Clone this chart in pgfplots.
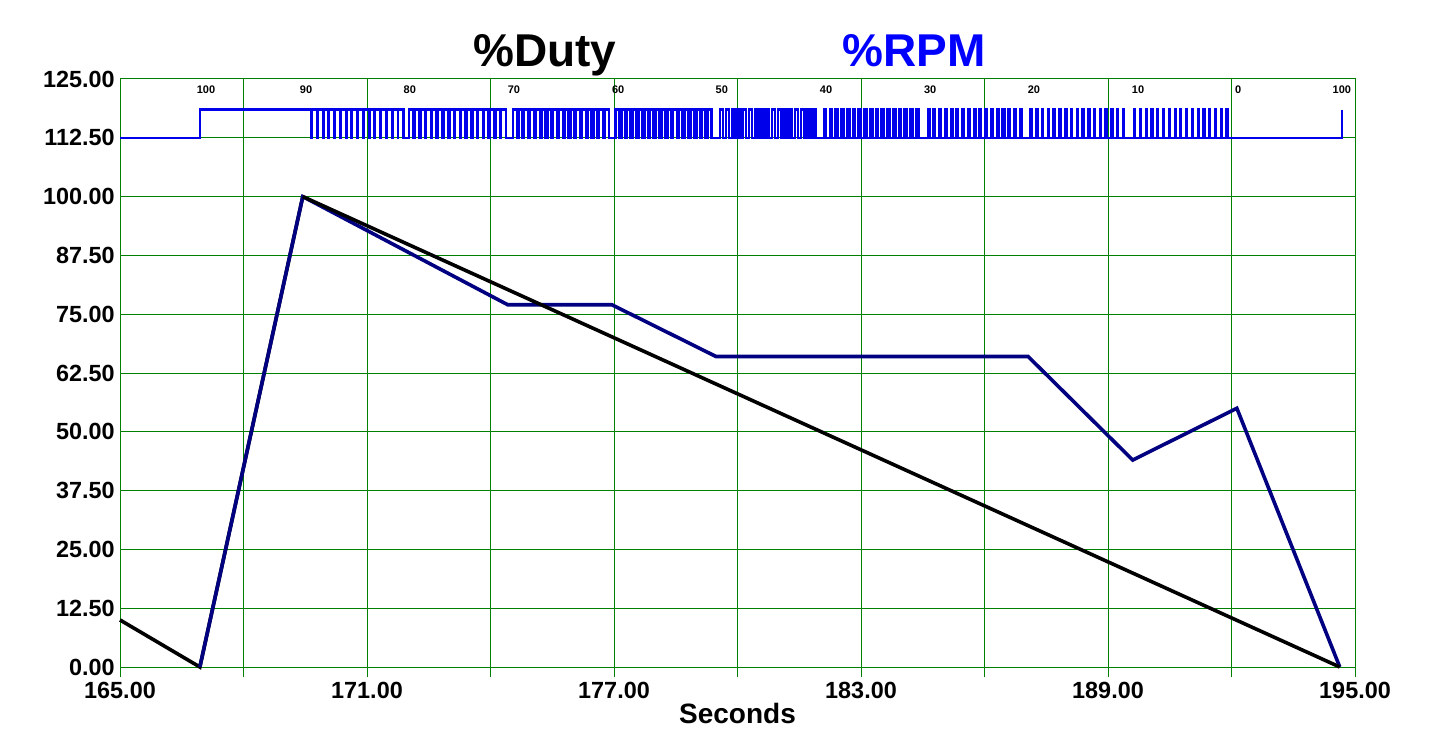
\documentclass[border=0pt]{standalone}
\usepackage{fontspec}
\setmainfont{Liberation Sans}
\usepackage{pgfplots}
\pgfplotsset{compat=1.18}
\definecolor{gridgreen}{RGB}{0,128,0}
\definecolor{navyline}{RGB}{0,0,128}
\definecolor{pulseblue}{RGB}{0,0,235}
\begin{document}
\begin{tikzpicture}[x=1pt,y=1pt]
\useasboundingbox (-60,-39) rectangle (659,333.5);
\begin{axis}[
  at={(0,0)}, anchor=south west,
  scale only axis, width=617.5pt, height=294pt,
  xmin=165, xmax=195, ymin=0, ymax=125,
  axis line style={gridgreen, line width=0.5pt},
  grid=major, grid style={gridgreen, line width=0.5pt},
  xtick={165,168,171,174,177,180,183,186,189,192,195},
  xticklabels={165.00,,171.00,,177.00,,183.00,,189.00,,195.00},
  ytick={0,12.5,25,37.5,50,62.5,75,87.5,100,112.5,125},
  yticklabels={0.00,12.50,25.00,37.50,50.00,62.50,75.00,87.50,100.00,112.50,125.00},
  tick label style={font=\fontsize{11.7}{13}\selectfont\bfseries},
  yticklabel style={inner xsep=0.5pt, xshift=3pt},
  xticklabel style={inner ysep=2.5pt},
  xtick pos=bottom, ytick pos=left, tick align=outside,
  major tick length=5pt,
  xtick style={gridgreen, line width=0.5pt},
  ytick style={draw=none},
  xlabel={Seconds}, xlabel style={font=\fontsize{14}{16}\selectfont\bfseries, yshift=4pt},
  clip=false,
]
% pulse train
\addplot[pulseblue, line width=1.2pt, const plot] coordinates {
(165,112.5) (166.94,118.5)
(169.52,118.5) (169.646,112.5) (169.66,118.5) (169.786,112.5) (169.80,118.5) (169.926,112.5) (169.94,118.5) (170.066,112.5)
(170.08,118.5) (170.206,112.5) (170.22,118.5) (170.346,112.5) (170.36,118.5) (170.486,112.5) (170.50,118.5) (170.626,112.5)
(170.64,118.5) (170.766,112.5) (170.78,118.5) (170.906,112.5) (170.92,118.5) (171.046,112.5) (171.06,118.5) (171.186,112.5)
(171.20,118.5) (171.326,112.5) (171.34,118.5) (171.466,112.5) (171.48,118.5) (171.606,112.5) (171.62,118.5) (171.746,112.5)
(171.76,118.5) (171.886,112.5)
(172.02,118.5) (172.132,112.5) (172.16,118.5) (172.272,112.5) (172.30,118.5) (172.412,112.5) (172.44,118.5) (172.552,112.5)
(172.58,118.5) (172.692,112.5) (172.72,118.5) (172.832,112.5) (172.86,118.5) (172.972,112.5) (173.00,118.5) (173.112,112.5)
(173.14,118.5) (173.252,112.5) (173.28,118.5) (173.392,112.5) (173.42,118.5) (173.532,112.5) (173.56,118.5) (173.672,112.5)
(173.70,118.5) (173.812,112.5) (173.84,118.5) (173.952,112.5) (173.98,118.5) (174.092,112.5) (174.12,118.5) (174.232,112.5)
(174.26,118.5) (174.372,112.5)
(174.54,118.5) (174.638,112.5) (174.68,118.5) (174.778,112.5) (174.82,118.5) (174.918,112.5) (174.96,118.5) (175.058,112.5)
(175.10,118.5) (175.198,112.5) (175.24,118.5) (175.338,112.5) (175.38,118.5) (175.478,112.5) (175.52,118.5) (175.618,112.5)
(175.66,118.5) (175.758,112.5) (175.80,118.5) (175.898,112.5) (175.94,118.5) (176.038,112.5) (176.08,118.5) (176.178,112.5)
(176.22,118.5) (176.318,112.5) (176.36,118.5) (176.458,112.5) (176.50,118.5) (176.598,112.5) (176.64,118.5) (176.738,112.5)
(176.78,118.5) (176.878,112.5)
(177.04,118.5) (177.124,112.5) (177.18,118.5) (177.264,112.5) (177.32,118.5) (177.404,112.5) (177.46,118.5) (177.544,112.5)
(177.60,118.5) (177.684,112.5) (177.74,118.5) (177.824,112.5) (177.88,118.5) (177.964,112.5) (178.02,118.5) (178.104,112.5)
(178.16,118.5) (178.244,112.5) (178.30,118.5) (178.384,112.5) (178.44,118.5) (178.524,112.5) (178.58,118.5) (178.664,112.5)
(178.72,118.5) (178.804,112.5) (178.86,118.5) (178.944,112.5) (179.00,118.5) (179.084,112.5) (179.14,118.5) (179.224,112.5)
(179.28,118.5) (179.364,112.5)
(179.58,118.5) (179.65,112.5) (179.72,118.5) (179.79,112.5) (179.86,118.5) (179.93,112.5) (180.00,118.5) (180.07,112.5)
(180.14,118.5) (180.21,112.5) (180.28,118.5) (180.35,112.5) (180.42,118.5) (180.49,112.5) (180.56,118.5) (180.63,112.5)
(180.70,118.5) (180.77,112.5) (180.84,118.5) (180.91,112.5) (180.98,118.5) (181.05,112.5) (181.12,118.5) (181.19,112.5)
(181.26,118.5) (181.33,112.5) (181.40,118.5) (181.47,112.5) (181.54,118.5) (181.61,112.5) (181.68,118.5) (181.75,112.5)
(181.82,118.5) (181.89,112.5)
(182.10,118.5) (182.156,112.5) (182.24,118.5) (182.296,112.5) (182.38,118.5) (182.436,112.5) (182.52,118.5) (182.576,112.5)
(182.66,118.5) (182.716,112.5) (182.80,118.5) (182.856,112.5) (182.94,118.5) (182.996,112.5) (183.08,118.5) (183.136,112.5)
(183.22,118.5) (183.276,112.5) (183.36,118.5) (183.416,112.5) (183.50,118.5) (183.556,112.5) (183.64,118.5) (183.696,112.5)
(183.78,118.5) (183.836,112.5) (183.92,118.5) (183.976,112.5) (184.06,118.5) (184.116,112.5) (184.20,118.5) (184.256,112.5)
(184.34,118.5) (184.396,112.5)
(184.62,118.5) (184.662,112.5) (184.76,118.5) (184.802,112.5) (184.90,118.5) (184.942,112.5) (185.04,118.5) (185.082,112.5)
(185.18,118.5) (185.222,112.5) (185.32,118.5) (185.362,112.5) (185.46,118.5) (185.502,112.5) (185.60,118.5) (185.642,112.5)
(185.74,118.5) (185.782,112.5) (185.88,118.5) (185.922,112.5) (186.02,118.5) (186.062,112.5) (186.16,118.5) (186.202,112.5)
(186.30,118.5) (186.342,112.5) (186.44,118.5) (186.482,112.5) (186.58,118.5) (186.622,112.5) (186.72,118.5) (186.762,112.5)
(186.86,118.5) (186.902,112.5)
(187.12,118.5) (187.148,112.5) (187.26,118.5) (187.288,112.5) (187.40,118.5) (187.428,112.5) (187.54,118.5) (187.568,112.5)
(187.68,118.5) (187.708,112.5) (187.82,118.5) (187.848,112.5) (187.96,118.5) (187.988,112.5) (188.10,118.5) (188.128,112.5)
(188.24,118.5) (188.268,112.5) (188.38,118.5) (188.408,112.5) (188.52,118.5) (188.548,112.5) (188.66,118.5) (188.688,112.5)
(188.80,118.5) (188.828,112.5) (188.94,118.5) (188.968,112.5) (189.08,118.5) (189.108,112.5) (189.22,118.5) (189.248,112.5)
(189.36,118.5) (189.388,112.5)
(189.64,118.5) (189.66,112.5) (189.78,118.5) (189.80,112.5) (189.92,118.5) (189.94,112.5) (190.06,118.5) (190.08,112.5)
(190.20,118.5) (190.22,112.5) (190.34,118.5) (190.36,112.5) (190.48,118.5) (190.50,112.5) (190.62,118.5) (190.64,112.5)
(190.76,118.5) (190.78,112.5) (190.90,118.5) (190.92,112.5) (191.04,118.5) (191.06,112.5) (191.18,118.5) (191.20,112.5)
(191.32,118.5) (191.34,112.5) (191.46,118.5) (191.48,112.5) (191.60,118.5) (191.62,112.5) (191.74,118.5) (191.76,112.5)
(191.88,118.5) (191.90,112.5)
(194.68,118.5)
};
% %Duty (black), first part
\addplot[black, line width=1.8pt] coordinates {
(165,10) (166.94,0) (169.44,100)
};
% %RPM (navy)
\addplot[navyline, line width=1.8pt] coordinates {
(166.94,0) (169.44,100) (174.42,77) (176.95,77) (179.48,66) (187.06,66) (189.60,44) (192.13,55) (194.63,0)
};
% %Duty (black), descending part
\addplot[black, line width=1.8pt] coordinates {
(169.44,100) (194.63,0)
};
% marker labels
\begin{scope}[every node/.style={font=\fontsize{5.5}{6}\selectfont\bfseries, anchor=base}]
\node at (axis cs:167.09,122) {100};
\node at (axis cs:169.52,122) {90};
\node at (axis cs:172.04,122) {80};
\node at (axis cs:174.57,122) {70};
\node at (axis cs:177.10,122) {60};
\node at (axis cs:179.62,122) {50};
\node at (axis cs:182.15,122) {40};
\node at (axis cs:184.68,122) {30};
\node at (axis cs:187.20,122) {20};
\node at (axis cs:189.73,122) {10};
\node at (axis cs:192.16,122) {0};
\node at (axis cs:194.68,122) {100};
\end{scope}
\node[font=\fontsize{23}{26}\selectfont\bfseries, anchor=base] at (axis description cs:0.344,1.021) {\%Duty};
\node[font=\fontsize{23}{26}\selectfont\bfseries, anchor=base, text=blue] at (axis description cs:0.643,1.021) {\%RPM};
\end{axis}
\end{tikzpicture}
\end{document}
